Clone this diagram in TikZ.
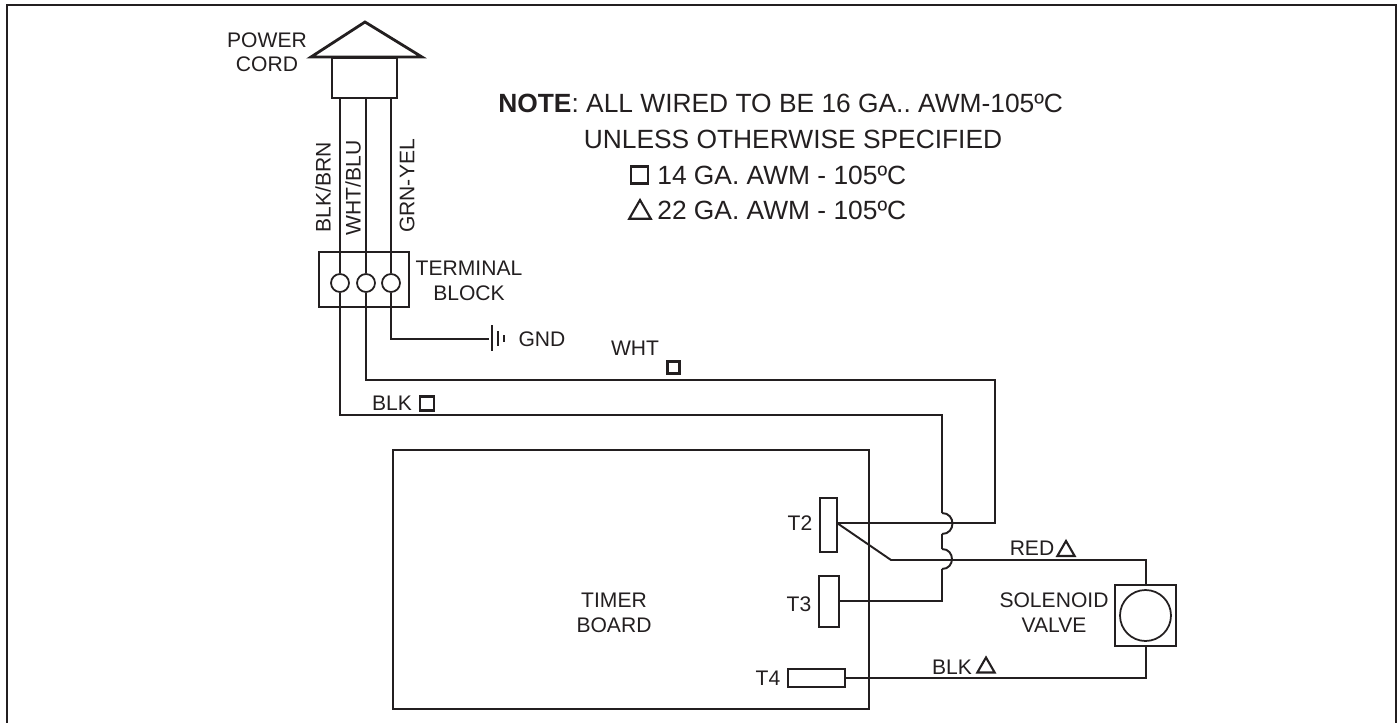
\documentclass[tikz,border=0pt]{standalone}
\usepackage{fontspec}
\setmainfont{Liberation Sans}
\usepackage{xcolor}
\usetikzlibrary{shapes}
\frenchspacing
\definecolor{ink}{HTML}{231F20}
\tikzstyle{wire}=[draw=ink,line width=1.1pt]
\tikzstyle{cordwire}=[draw=ink,line width=1.6pt]
\tikzstyle{part}=[rectangle,draw=ink,line width=1pt,inner sep=0pt]
\tikzstyle{screw}=[circle,draw=ink,line width=1pt,fill=white,inner sep=0pt,minimum size=0.36cm]
\tikzstyle{label}=[text=ink,font=\fontsize{12}{12}\selectfont,align=center,inner sep=0pt]
\tikzstyle{notetext}=[text=ink,font=\fontsize{15}{15}\selectfont,inner sep=0pt]
\tikzstyle{gasquare}=[rectangle,draw=ink,line width=1.2pt,inner sep=0pt,minimum size=0.28cm]
\tikzstyle{gatriangle}=[regular polygon,regular polygon sides=3,draw=ink,line width=1.2pt,inner sep=0pt,minimum size=0.4cm]

\begin{document}
\begin{tikzpicture}[x=0.02cm,y=-0.02cm]
        \useasboundingbox (0,0) rectangle (1397,723);
        % frame
        \draw [ink,line width=1pt] (7,723) -- (7,5) -- (1396,5) -- (1396,723);

        % power cord
        \coordinate (apex) at (365,22);
        \coordinate (hoodl) at (311,57);
        \coordinate (hoodr) at (422,57);
        \draw [cordwire,line join=miter] (hoodl) -- (apex) -- (hoodr) -- cycle;
        \node at (364.5,78) [part,line width=1.5pt,minimum width=1.3cm,minimum height=0.8cm] (plug) {};
        \node at (364,279.5) [part,line width=1.5pt,minimum width=1.8cm,minimum height=1.1cm] (block) {};
        \node at (340,283) [screw] (s1) {};
        \node at (366,283) [screw] (s2) {};
        \node at (391,283) [screw] (s3) {};
        \coordinate (p1) at (340,98);
        \coordinate (p2) at (366,98);
        \coordinate (p3) at (391,98);
        \coordinate (b1) at (340,252);
        \coordinate (b2) at (366,252);
        \coordinate (b3) at (391,252);

        \draw [cordwire] (p1) -- (b1);
        \draw [cordwire] (p2) -- (b2);
        \draw [cordwire] (p3) -- (b3);
        \draw [wire] (b1) -- (s1);
        \draw [wire] (b2) -- (s2);
        \draw [wire] (b3) -- (s3);

        \node at (267,40) [label] (power) {POWER};
        \node at (267,64) [label] (cord) {CORD};
        \node at (323,187) [label,rotate=90] (brn) {BLK/BRN};
        \node at (353,188) [label,rotate=90] (blu) {WHT/BLU};
        \node at (407,186) [label,rotate=90] (yel) {GRN-YEL};
        \node at (469,268) [label] (term) {TERMINAL};
        \node at (469,293) [label] (blk) {BLOCK};

        % ground
        \coordinate (g0) at (391,339);
        \coordinate (g1) at (489,339);
        \coordinate (g2a) at (492,325);
        \coordinate (g2b) at (492,351);
        \coordinate (g3a) at (498,331);
        \coordinate (g3b) at (498,346);
        \coordinate (g4a) at (504,335);
        \coordinate (g4b) at (504,342);
        \draw [wire] (s3) -- (g0) -- (g1);
        \draw [wire] (g2a) -- (g2b);
        \draw [wire] (g3a) -- (g3b);
        \draw [wire] (g4a) -- (g4b);
        \node at (542,339) [label] (gnd) {GND};

        % note
        \node at (498,103) [notetext,anchor=west] (note1) {\textbf{NOTE}: ALL WIRED TO BE 16 GA.. AWM-105ºC};
        \node at (793,139) [notetext] (note2) {UNLESS OTHERWISE SPECIFIED};
        \node at (639.5,175) [gasquare,minimum size=0.34cm] (keysq) {};
        \node at (657,175) [notetext,anchor=west] (note3) {14 GA. AWM - 105ºC};
        \node at (640,212.5) [gatriangle,minimum size=0.5cm] (keytr) {};
        \node at (657,210) [notetext,anchor=west] (note4) {22 GA. AWM - 105ºC};

        % timer board
        \node at (631,579.5) [part,minimum width=9.52cm,minimum height=5.18cm] (board) {};
        \node at (614,600) [label] (timer) {TIMER};
        \node at (614,625) [label] (boardlbl) {BOARD};
        \node at (828.5,525) [part,minimum width=0.34cm,minimum height=1.08cm] (t2) {};
        \node at (829,601.5) [part,minimum width=0.4cm,minimum height=1.02cm] (t3) {};
        \node at (816.5,678) [part,minimum width=1.14cm,minimum height=0.36cm] (t4) {};
        \node at (800,523) [label] (t2lbl) {T2};
        \node at (799,604) [label] (t3lbl) {T3};
        \node at (768,678) [label] (t4lbl) {T4};

        % solenoid valve
        \node at (1145.5,615.5) [part,minimum size=1.22cm] (valve) {};
        \node at (1145.5,615.5) [circle,draw=ink,line width=1pt,minimum size=1.02cm,inner sep=0pt] (coil) {};
        \node at (1054,600) [label] (sol) {SOLENOID};
        \node at (1054,625) [label] (val) {VALVE};

        % wires
        \coordinate (w1) at (340,415);
        \coordinate (w2) at (942,415);
        \coordinate (h1) at (942,513);
        \coordinate (h2) at (942,534);
        \coordinate (h3) at (942,549);
        \coordinate (h4) at (942,569);
        \coordinate (w3) at (942,601);
        \draw [wire] (s1) -- (w1) -- (w2) -- (h1);
        \draw [wire] (h1) to [out=0,in=0,looseness=1.7] (h2);
        \draw [wire] (h2) -- (h3);
        \draw [wire] (h3) to [out=0,in=0,looseness=1.7] (h4);
        \draw [wire] (h4) -- (w3) -- (t3.east |- w3);

        \coordinate (w4) at (366,380);
        \coordinate (w5) at (995,380);
        \coordinate (w6) at (995,523);
        \coordinate (t2r) at (837,523);
        \draw [wire] (s2) -- (w4) -- (w5) -- (w6) -- (t2r);

        \coordinate (r1) at (891,560);
        \coordinate (r2) at (1146,560);
        \draw [wire] (t2r) -- (r1) -- (r2) -- (r2 |- valve.north);
        \coordinate (b4) at (1146,678);
        \draw [wire] (valve.south -| b4) -- (b4) -- (t4.east |- b4);

        % wire labels
        \node at (392,403) [label] (blk1) {BLK};
        \node at (427,403.5) [gasquare] (blksq) {};
        \node at (635,348) [label] (wht) {WHT};
        \node at (673.5,367.5) [gasquare,minimum size=0.24cm] (whtsq) {};
        \node at (1032,548) [label] (red) {RED};
        \node at (1066,551) [gatriangle] (redtr) {};
        \node at (952,667) [label] (blk2) {BLK};
        \node at (986,667.5) [gatriangle] (blktr) {};
\end{tikzpicture}
\end{document}
